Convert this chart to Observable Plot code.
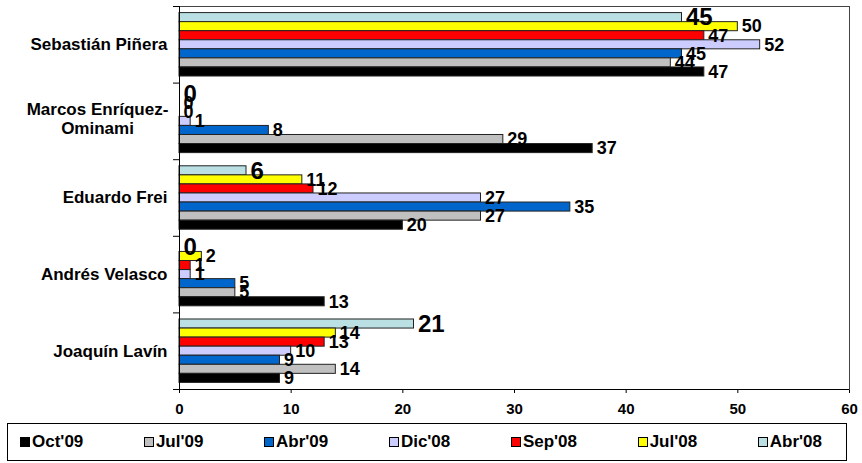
<!DOCTYPE html>
<html><head><meta charset="utf-8">
<script src="https://cdn.jsdelivr.net/npm/d3@7"></script>
<script src="https://cdn.jsdelivr.net/npm/@observablehq/plot@0.6"></script>
<style>
body{margin:0;background:#fff;font-family:"Liberation Sans",Arial,sans-serif;}
#chart{height:421px;}
#legend{margin:2px 0 0 7px;width:840px;height:38px;border:1px solid #000;box-sizing:border-box;display:flex;align-items:center;justify-content:space-between;padding:0 24px 0 12px;font-weight:bold;font-size:17px;color:#000;}
#legend .item{display:flex;align-items:center;white-space:nowrap;}
#legend .sw{width:8px;height:8px;border:1px solid #000;margin-right:2px;}
</style></head><body>
<div id="chart"></div>
<div id="legend"></div>
<script>
// Candidates, top to bottom
const candidates = ["Sebastián Piñera", "Marcos Enríquez-Ominami", "Eduardo Frei", "Andrés Velasco", "Joaquín Lavín"];
const candidateLabels = ["Sebastián Piñera", "Marcos Enríquez-\nOminami", "Eduardo Frei", "Andrés Velasco", "Joaquín Lavín"];
// Survey waves, top to bottom inside each group
const series = ["Abr'08", "Jul'08", "Sep'08", "Dic'08", "Abr'09", "Jul'09", "Oct'09"];
const seriesColors = ["#BBE0E3", "#FFFF00", "#FF0000", "#CCCCFF", "#0066CC", "#C0C0C0", "#000000"];
const legendOrder = ["Oct'09", "Jul'09", "Abr'09", "Dic'08", "Sep'08", "Jul'08", "Abr'08"];
// Values per wave, in candidate order
const abr08 = [45, 0, 6, 0, 21];
const jul08 = [50, 0, 11, 2, 14];
const sep08 = [47, 0, 12, 1, 13];
const dic08 = [52, 1, 27, 1, 10];
const abr09 = [45, 8, 35, 5, 9];
const jul09 = [44, 29, 27, 5, 14];
const oct09 = [47, 37, 20, 13, 9];
const xTicks = [0, 10, 20, 30, 40, 50, 60];

const valuesBySeries = [abr08, jul08, sep08, dic08, abr09, jul09, oct09];
const rows = [];
candidates.forEach((c, ci) => {
  series.forEach((s, si) => {
    rows.push({candidate: c, series: s, value: valuesBySeries[si][ci], ci, si});
  });
});
const pad = 0.086;
const barH = (1 - 2 * pad) / series.length;
const barTop = d => d.ci + pad + d.si * barH;
const barBot = d => d.ci + pad + (d.si + 1) * barH;
const barMid = d => d.ci + pad + (d.si + 0.5) * barH;
const labelRows = candidateLabels.map((label, ci) => ({label, ci}));
const font = "'Liberation Sans', Arial, sans-serif";

const chart = Plot.plot({
  width: 862,
  height: 421,
  marginTop: 6,
  marginBottom: 32,
  marginLeft: 179,
  marginRight: 13,
  style: {fontFamily: font, fontSize: "15px", fontWeight: "bold", color: "#000", background: "#fff"},
  x: {domain: [0, 60], ticks: xTicks.length - 1, tickSize: 4, tickFormat: () => "", label: null},
  y: {domain: [0, candidates.length], reverse: true, ticks: 5, tickSize: 6, tickFormat: () => "", label: null},
  color: {domain: series, range: seriesColors},
  marks: [
    Plot.frame({stroke: "#444", strokeWidth: 1}),
    Plot.rect(rows.filter(d => d.value > 0), {
      x1: () => 0, x2: "value", y1: barTop, y2: barBot,
      fill: "series", stroke: "#222", strokeWidth: 1
    }),
    Plot.ruleX([0], {stroke: "#000", strokeWidth: 1}),
    Plot.ruleY([candidates.length], {stroke: "#000", strokeWidth: 1}),
    Plot.text(xTicks, {
      x: d => d, text: d => String(d), frameAnchor: "bottom", dy: 24,
      fontSize: 15, fontWeight: "bold", fill: "#000", fontFamily: font
    }),
    Plot.text(rows.filter(d => d.series !== "Abr'08"), {
      x: "value", y: barMid, text: d => String(d.value),
      dx: 4, textAnchor: "start", fontSize: 18, fontWeight: "bold", fill: "#000", fontFamily: font
    }),
    Plot.text(rows.filter(d => d.series === "Abr'08"), {
      x: "value", y: barMid, text: d => String(d.value),
      dx: 4, textAnchor: "start", fontSize: 24, fontWeight: "bold", fill: "#000", fontFamily: font
    }),
    Plot.text(labelRows.filter(d => !d.label.includes("\n")), {
      x: () => 0, y: d => d.ci + 0.5, text: "label",
      dx: -12, textAnchor: "end", fontSize: 17, fontWeight: "bold", fill: "#000", fontFamily: font
    }),
    Plot.text(labelRows.filter(d => d.label.includes("\n")), {
      x: () => 0, y: d => d.ci + 0.5, text: "label",
      dx: -82, dy: -3, textAnchor: "middle", lineHeight: 1.15, fontSize: 17, fontWeight: "bold", fill: "#000", fontFamily: font
    })
  ]
});
document.getElementById("chart").appendChild(chart);

const legend = document.getElementById("legend");
legendOrder.forEach(s => {
  const item = document.createElement("div");
  item.className = "item";
  const sw = document.createElement("span");
  sw.className = "sw";
  sw.style.background = seriesColors[series.indexOf(s)];
  const t = document.createElement("span");
  t.textContent = s;
  item.appendChild(sw);
  item.appendChild(t);
  legend.appendChild(item);
});
</script>
</body></html>
